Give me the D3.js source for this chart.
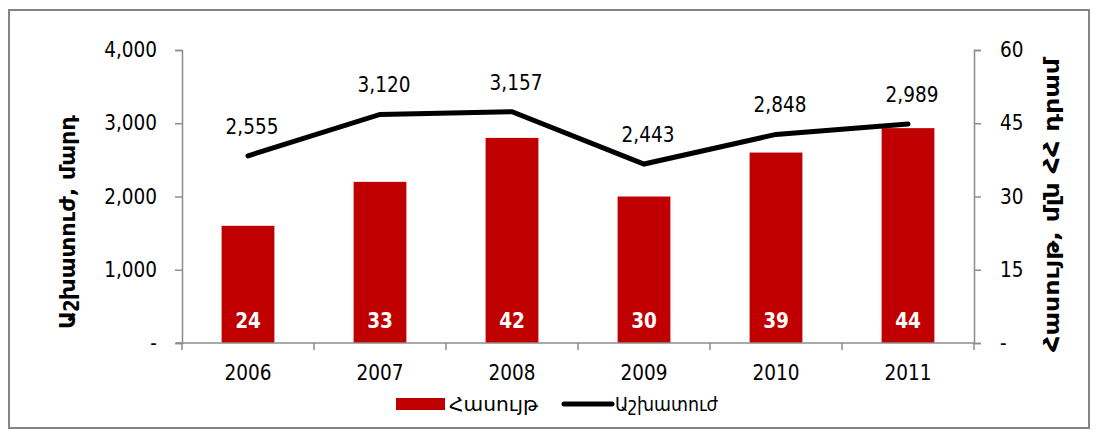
<!DOCTYPE html>
<html>
<head>
<meta charset="utf-8">
<script src="https://cdn.jsdelivr.net/npm/d3@7"></script>
<style>
  body { margin: 0; background: #fff; }
  svg text { font-family: "DejaVu Sans Condensed", "DejaVu Sans", Verdana, sans-serif; font-stretch: condensed; }
  svg text.title { font-family: "DejaVu Sans", Verdana, sans-serif; font-stretch: normal; }
</style>
</head>
<body>
<svg width="1098" height="436"></svg>
<script>
// chart data
const years = ["2006", "2007", "2008", "2009", "2010", "2011"]
const revenue = [24, 33, 42, 30, 39, 44]          // Հասույթ, մլն ՀՀ դրամ (right axis)
const workforce = [2555, 3120, 3157, 2443, 2848, 2989]  // Աշխատուժ, մարդ (left axis)
const leftTicks = [0, 1000, 2000, 3000, 4000]
const rightTicks = [0, 15, 30, 45, 60]

const svg = d3.select("svg")

// outer frame
svg.append("rect")
    .attr("x", 9).attr("y", 10)
    .attr("width", 1080).attr("height", 418)
    .style("fill", "none")
    .style("stroke", "#858585")
    .style("stroke-width", 2)

const plotLeft = 182, plotRight = 974, plotTop = 50, plotBottom = 343

let xScale = d3.scaleBand().domain(years).range([plotLeft, plotRight])
let yLeft = d3.scaleLinear().domain([0, 4000]).range([plotBottom, plotTop])
let yRight = d3.scaleLinear().domain([0, 60]).range([plotBottom, plotTop])

const fmt = d => d === 0 ? "-" : d3.format(",")(d)

// left axis
var leftAxis = svg.append("g")
    .attr("transform", `translate(${plotLeft},0)`)
    .call(d3.axisLeft(yLeft).tickValues(leftTicks).tickFormat(fmt).tickSizeOuter(0).tickSize(7).tickPadding(18))
// right axis
var rightAxis = svg.append("g")
    .attr("transform", `translate(${plotRight},0)`)
    .call(d3.axisRight(yRight).tickValues(rightTicks).tickFormat(fmt).tickSizeOuter(0).tickSize(7).tickPadding(19))

svg.selectAll(".domain, .tick line").style("stroke", "#8c8c8c").style("stroke-width", 1.5)
svg.selectAll(".tick text").style("font-size", "20.5px").style("fill", "#000")

// bars
svg.append("g")
    .selectAll("rect")
    .data(years)
    .enter()
    .append("rect")
    .attr("x", d => xScale(d) + xScale.bandwidth() * 0.3)
    .attr("width", xScale.bandwidth() * 0.4)
    .attr("y", (d, i) => yRight(revenue[i]))
    .attr("height", (d, i) => plotBottom - yRight(revenue[i]))
    .style("fill", "#c00000")

// bar labels
svg.append("g")
    .selectAll("text")
    .data(years)
    .enter()
    .append("text")
    .attr("x", d => xScale(d) + xScale.bandwidth() / 2)
    .attr("y", 328)
    .attr("text-anchor", "middle")
    .style("font-size", "20.5px")
    .style("font-weight", "bold")
    .style("fill", "#fff")
    .text((d, i) => revenue[i])

// bottom axis
var xAxis = svg.append("g")
    .attr("transform", `translate(0,${plotBottom})`)
    .call(d3.axisBottom(xScale).tickSize(0).tickPadding(22).tickSizeOuter(0))
xAxis.select(".domain").remove()
xAxis.selectAll("text").style("font-size", "20.5px").style("fill", "#000")

svg.append("line")
    .attr("x1", plotLeft - 6).attr("x2", plotRight)
    .attr("y1", plotBottom).attr("y2", plotBottom)
    .style("stroke", "#8c8c8c").style("stroke-width", 1.5)

// category dividers on the baseline
svg.append("g")
    .selectAll("line")
    .data(years.concat(["end"]))
    .enter()
    .append("line")
    .attr("x1", (d, i) => plotLeft + i * xScale.bandwidth())
    .attr("x2", (d, i) => plotLeft + i * xScale.bandwidth())
    .attr("y1", plotBottom).attr("y2", plotBottom + 7)
    .style("stroke", "#8c8c8c").style("stroke-width", 1.5)

// line
const line = d3.line()
    .x((d, i) => xScale(years[i]) + xScale.bandwidth() / 2)
    .y(d => yLeft(d))

svg.append("path")
    .datum(workforce)
    .attr("d", line)
    .style("fill", "none")
    .style("stroke", "#000")
    .style("stroke-width", 5)
    .style("stroke-linecap", "round")

svg.append("g")
    .selectAll("text")
    .data(workforce)
    .enter()
    .append("text")
    .attr("x", (d, i) => xScale(years[i]) + xScale.bandwidth() / 2 + 4)
    .attr("y", d => yLeft(d) - 22)
    .attr("text-anchor", "middle")
    .style("font-size", "20.5px")
    .style("fill", "#000")
    .text(d => d3.format(",")(d))

// axis titles
svg.append("text")
    .attr("class", "title")
    .attr("transform", "translate(75,222) rotate(-90)")
    .attr("text-anchor", "middle")
    .attr("textLength", 214)
    .attr("lengthAdjust", "spacingAndGlyphs")
    .style("font-size", "22px")
    .style("font-weight", "bold")
    .text("Աշխատուժ, մարդ")

svg.append("text")
    .attr("class", "title")
    .attr("transform", "translate(1059,205) rotate(-90)")
    .attr("text-anchor", "middle")
    .attr("textLength", 294)
    .attr("lengthAdjust", "spacingAndGlyphs")
    .style("font-size", "22px")
    .style("font-weight", "bold")
    .text("Հասույթ, մլն ՀՀ դրամ")

// legend
var legend = svg.append("g")
legend.append("rect")
    .attr("x", 396).attr("y", 398)
    .attr("width", 49).attr("height", 12)
    .style("fill", "#c00000")
legend.append("text")
    .attr("x", 449).attr("y", 411)
    .attr("textLength", 89)
    .attr("lengthAdjust", "spacingAndGlyphs")
    .style("font-size", "19px")
    .text("Հասույթ")
legend.append("line")
    .attr("x1", 564).attr("x2", 612)
    .attr("y1", 404).attr("y2", 404)
    .style("stroke", "#000").style("stroke-width", 5)
    .style("stroke-linecap", "round")
legend.append("text")
    .attr("x", 615).attr("y", 411)
    .attr("textLength", 103)
    .attr("lengthAdjust", "spacingAndGlyphs")
    .style("font-size", "19px")
    .text("Աշխատուժ")
</script>
</body>
</html>
